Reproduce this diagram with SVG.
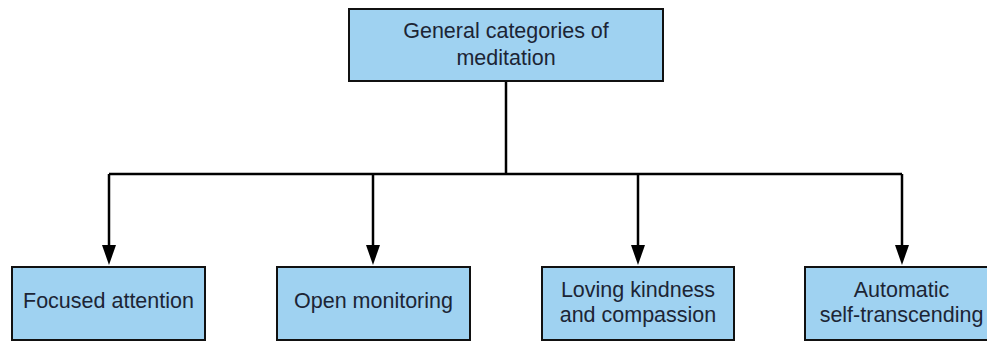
<svg xmlns="http://www.w3.org/2000/svg" width="987" height="342" viewBox="0 0 987 342">
  <style>
    .box { fill: #9fd2f1; stroke: #111; stroke-width: 2; }
    .lbl { font-family: "Liberation Sans", Arial, sans-serif; font-size: 21.5px; fill: #1c2535; text-anchor: middle; }
    .wire { fill: none; stroke: #000; stroke-width: 2.5; }
  </style>
  <rect width="987" height="342" fill="#fff"/>

  <g id="connectors">
    <path class="wire" d="M506,81 V174"/>
    <path class="wire" d="M109,174 H902"/>
    <path class="wire" d="M109,174 V245"/>
    <path class="wire" d="M373,174 V245"/>
    <path class="wire" d="M638,174 V245"/>
    <path class="wire" d="M902,174 V245"/>
    <path d="M102,245 L116,245 L109,265 Z"/>
    <path d="M366,245 L380,245 L373,265 Z"/>
    <path d="M631,245 L645,245 L638,265 Z"/>
    <path d="M895,245 L909,245 L902,265 Z"/>
  </g>

  <g id="root">
    <rect class="box" x="349" y="9" width="314" height="72"/>
    <text class="lbl" x="506" y="38">General categories of</text>
    <text class="lbl" x="506" y="65">meditation</text>
  </g>

  <g id="focused">
    <rect class="box" x="12" y="267" width="193" height="73"/>
    <text class="lbl" x="108.5" y="308">Focused attention</text>
  </g>

  <g id="open">
    <rect class="box" x="277" y="267" width="193" height="73"/>
    <text class="lbl" x="373.5" y="308">Open monitoring</text>
  </g>

  <g id="loving">
    <rect class="box" x="542" y="267" width="192" height="73"/>
    <text class="lbl" x="638" y="297">Loving kindness</text>
    <text class="lbl" x="638" y="322">and compassion</text>
  </g>

  <g id="automatic">
    <rect class="box" x="805" y="267" width="193" height="73"/>
    <text class="lbl" x="901.5" y="297">Automatic</text>
    <text class="lbl" x="901.5" y="322">self-transcending</text>
  </g>
</svg>
